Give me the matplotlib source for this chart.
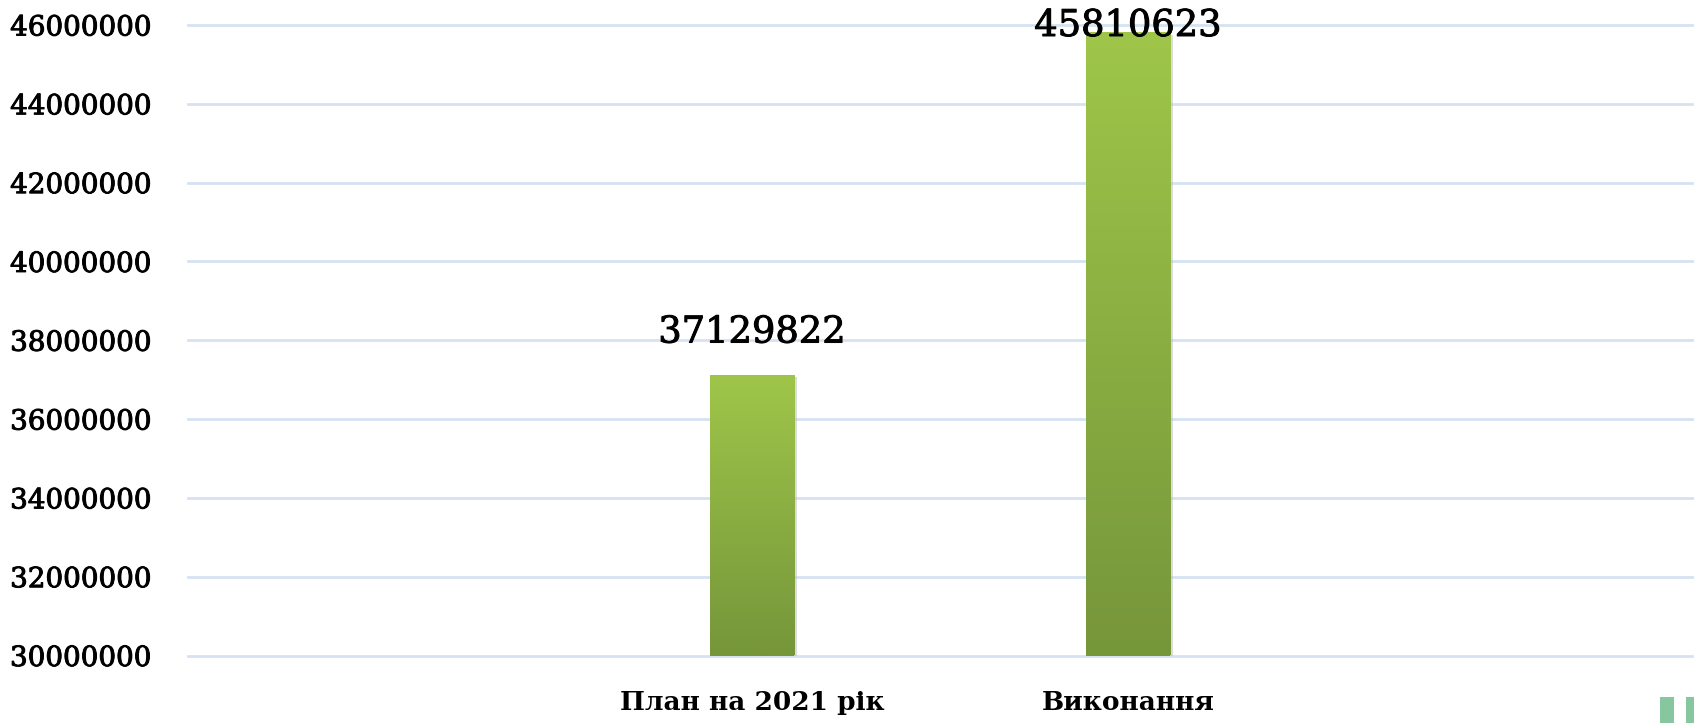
import numpy as np
import matplotlib
matplotlib.use("Agg")
import matplotlib.pyplot as plt
from matplotlib.colors import LinearSegmentedColormap
from matplotlib.patches import Rectangle
import matplotlib.patheffects as pe

categories = ["План на 2021 рік", "Виконання"]
values = [37129822, 45810623]
value_labels = ["37129822", "45810623"]
yticks = [30000000, 32000000, 34000000, 36000000, 38000000, 40000000, 42000000, 44000000, 46000000]
ytick_labels = [str(t) for t in yticks]

W, H, DPI = 1694, 723, 100
fig = plt.figure(figsize=(W / DPI, H / DPI), dpi=DPI)
ax = fig.add_axes([188 / W, 67.5 / H, 1504 / W, 630.5 / H])

heavy = [pe.withStroke(linewidth=0.7, foreground="black")]

ax.set_xlim(-1.5, 2.5)
ax.set_ylim(30000000, 46000000)
ax.set_yticks(yticks)
ax.set_yticklabels(ytick_labels, fontsize=20, family="DejaVu Serif")
for t in ax.get_yticklabels():
    t.set_path_effects(heavy)
ax.set_xticks(range(len(categories)))
ax.set_xticklabels(categories, fontsize=19, family="DejaVu Serif", fontweight="bold")
ax.tick_params(axis="y", length=0, pad=26)
ax.tick_params(axis="x", length=0, pad=25)
for s in ax.spines.values():
    s.set_visible(False)
ax.yaxis.grid(True, color="#d6e2f2", linewidth=2)
for gl in ax.get_ygridlines():
    gl.set_clip_on(False)
ax.set_axisbelow(True)

cmap = LinearSegmentedColormap.from_list("g", ["#76963a", "#9fc64a"])
grad = np.linspace(0, 1, 256).reshape(-1, 1)
bw = 0.226
for i, v in enumerate(values):
    rect = Rectangle((i - bw / 2, 30000000), bw, v - 30000000, facecolor="#76963a",
                     edgecolor="none", zorder=2,
                     path_effects=[pe.SimplePatchShadow(offset=(1.5, -1.5), shadow_rgbFace="#bbbbbb", alpha=0.5),
                                   pe.Normal()])
    ax.add_patch(rect)
    im = ax.imshow(grad, cmap=cmap, origin="lower", aspect="auto",
                   extent=(i - bw / 2, i + bw / 2, 30000000, v), zorder=3)
    im.set_clip_path(rect)

ax.set_xlim(-1.5, 2.5)
ax.set_ylim(30000000, 46000000)

fig.canvas.draw()
for i, v in enumerate(values):
    top_px = ax.transData.transform((i, v))[1]  # from bottom
    top_from_top = H - top_px
    base = top_from_top - 32
    if base - 28 < 8:
        base = 36
    ybase_fig = (H - base) / H
    xfig = fig.transFigure.inverted().transform(ax.transData.transform((i, v)))[0]
    fig.text(xfig, ybase_fig, value_labels[i], ha="center", va="baseline",
             fontsize=26.5, family="DejaVu Serif", color="black", zorder=5,
             path_effects=heavy)

# small decorative marks at bottom right
fig.patches.append(Rectangle((1660 / W, 0), 14 / W, 26 / H, transform=fig.transFigure,
                             facecolor="#87c79f", edgecolor="none", figure=fig))
fig.patches.append(Rectangle((1686 / W, 0), 8 / W, 26 / H, transform=fig.transFigure,
                             facecolor="#87c79f", edgecolor="none", figure=fig))

fig.savefig("out.png", dpi=DPI)
